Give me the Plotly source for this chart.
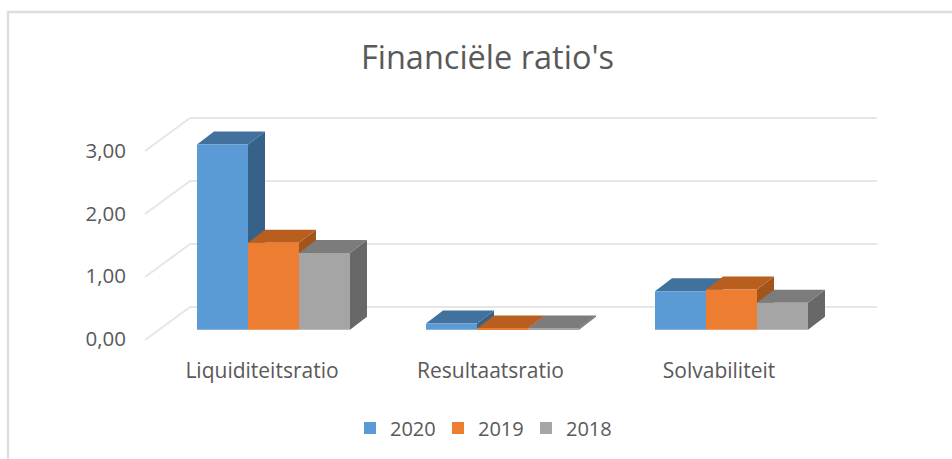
import plotly.graph_objects as go

categories = ["Liquiditeitsratio", "Resultaatsratio", "Solvabiliteit"]
series_names = ["2020", "2019", "2018"]
values_2020 = [2.94, 0.10, 0.61]
values_2019 = [1.38, 0.02, 0.64]
values_2018 = [1.22, 0.02, 0.43]
axis_ticks = [0, 1, 2, 3]
axis_labels = ["0,00", "1,00", "2,00", "3,00"]

series = [values_2020, values_2019, values_2018]
front = ["#5B9BD5", "#ED7D31", "#A5A5A5"]
top = ["#41719C", "#B85F1F", "#7C7C7C"]
side = ["#36628A", "#A3541B", "#686868"]

W, H = 952, 459
UX, UY = 229.0, 63.0          # pixels per category / per value
X0, Y0 = 273.5, 329.8         # pixel position of category 0 / value 0
BAR = 51.0 / UX
DX, DY = 17.0 / UX, 13.0 / UY
TXT = "#595959"
FONT = "Open Sans"

xr = [(0 - X0) / UX, (W - X0) / UX]
yr = [(Y0 - H) / UY, Y0 / UY]

fig = go.Figure()

for t in axis_ticks:
    fig.add_trace(go.Scatter(
        x=[(145 - X0) / UX, (190 - X0) / UX],
        y=[t + (Y0 - 340) / UY, t + (Y0 - 307) / UY],
        mode="lines", line=dict(color="#E6E6E6", width=2),
        showlegend=False, hoverinfo="skip", zorder=0))

for i, (name, vals) in enumerate(zip(series_names, series)):
    off = (i - 1.5) * BAR
    xs_side, ys_side, xs_top, ys_top = [], [], [], []
    for c, v in enumerate(vals):
        l = c + off
        r = l + BAR
        xs_side += [r, r, r + DX, r + DX, r, None]
        ys_side += [0, v, v + DY, DY, 0, None]
        xs_top += [l, r, r + DX, l + DX, l, None]
        ys_top += [v, v, v + DY, v + DY, v, None]
    fig.add_trace(go.Scatter(x=xs_side, y=ys_side, mode="lines", fill="toself",
                             fillcolor=side[i], line=dict(width=0),
                             showlegend=False, hoverinfo="skip", zorder=2 * i + 1))
    fig.add_trace(go.Scatter(x=xs_top, y=ys_top, mode="lines", fill="toself",
                             fillcolor=top[i], line=dict(width=0),
                             showlegend=False, hoverinfo="skip", zorder=2 * i + 1))
    fig.add_trace(go.Bar(x=list(range(len(categories))), y=vals, name=name,
                         offset=off, width=BAR, marker=dict(color=front[i], line=dict(width=0)),
                         zorder=2 * i + 2))

fig.add_trace(go.Scatter(x=[0], y=[0], xaxis="x2", yaxis="y2", mode="none",
                         showlegend=False, hoverinfo="skip"))
fig.add_trace(go.Scatter(x=[0, 1, 2], y=[0, 0, 0], xaxis="x3", yaxis="y3", mode="none",
                         showlegend=False, hoverinfo="skip"))

fig.update_layout(
    width=W, height=H, autosize=False,
    margin=dict(l=0, r=0, t=0, b=0),
    paper_bgcolor="white", plot_bgcolor="rgba(0,0,0,0)",
    barmode="overlay",
    font=dict(family=FONT, color=TXT, size=18),
    title=dict(text="Financiële ratio's", x=487.5 / W, xanchor="center",
               y=1 - 58 / H, yanchor="middle", font=dict(size=32.5, color=TXT, family=FONT)),
    xaxis=dict(domain=[0, 1], range=xr, visible=False),
    yaxis=dict(domain=[0, 1], range=yr, visible=False),
    xaxis2=dict(domain=[190 / W, 877 / W], range=[0, 1], visible=False, anchor="y2"),
    yaxis2=dict(domain=[0, 1], range=[(307 - H) / UY, 307 / UY], anchor="x2",
                tickvals=axis_ticks, showticklabels=False, showline=False, zeroline=False,
                showgrid=True, gridcolor="#E6E6E6", gridwidth=2, ticks=""),
    xaxis3=dict(range=[-262 / 228.5, (W - 262) / 228.5], anchor="free",
                position=1 - 356 / H, tickvals=list(range(len(categories))),
                ticktext=categories, showline=False, showgrid=False, zeroline=False,
                ticks="", tickfont=dict(size=21, color=TXT, family=FONT), overlaying="x"),
    yaxis3=dict(range=[(338.5 - H) / 62.5, 338.5 / 62.5], anchor="free",
                position=126 / W, tickvals=axis_ticks, ticktext=axis_labels,
                showline=False, showgrid=False, zeroline=False, ticks="",
                tickfont=dict(size=20.5, color=TXT, family=FONT), overlaying="y"),
    legend=dict(orientation="h", x=482 / W, xanchor="center", y=1 - 428 / H, yanchor="middle",
                entrywidth=43, entrywidthmode="pixels",
                font=dict(size=20, color=TXT, family=FONT), bgcolor="rgba(0,0,0,0)"),
    shapes=[
        dict(type="line", xref="paper", yref="paper", x0=7 / W, x1=1, y0=1 - 12 / H, y1=1 - 12 / H,
             line=dict(color="#DEDEDE", width=2.5)),
        dict(type="line", xref="paper", yref="paper", x0=8 / W, x1=8 / W, y0=0, y1=1 - 11 / H,
             line=dict(color="#DEDEDE", width=2.5)),
    ],
)

fig.write_html("out.html", config={"displayModeBar": False},
               post_script="document.body.style.margin='0';")
